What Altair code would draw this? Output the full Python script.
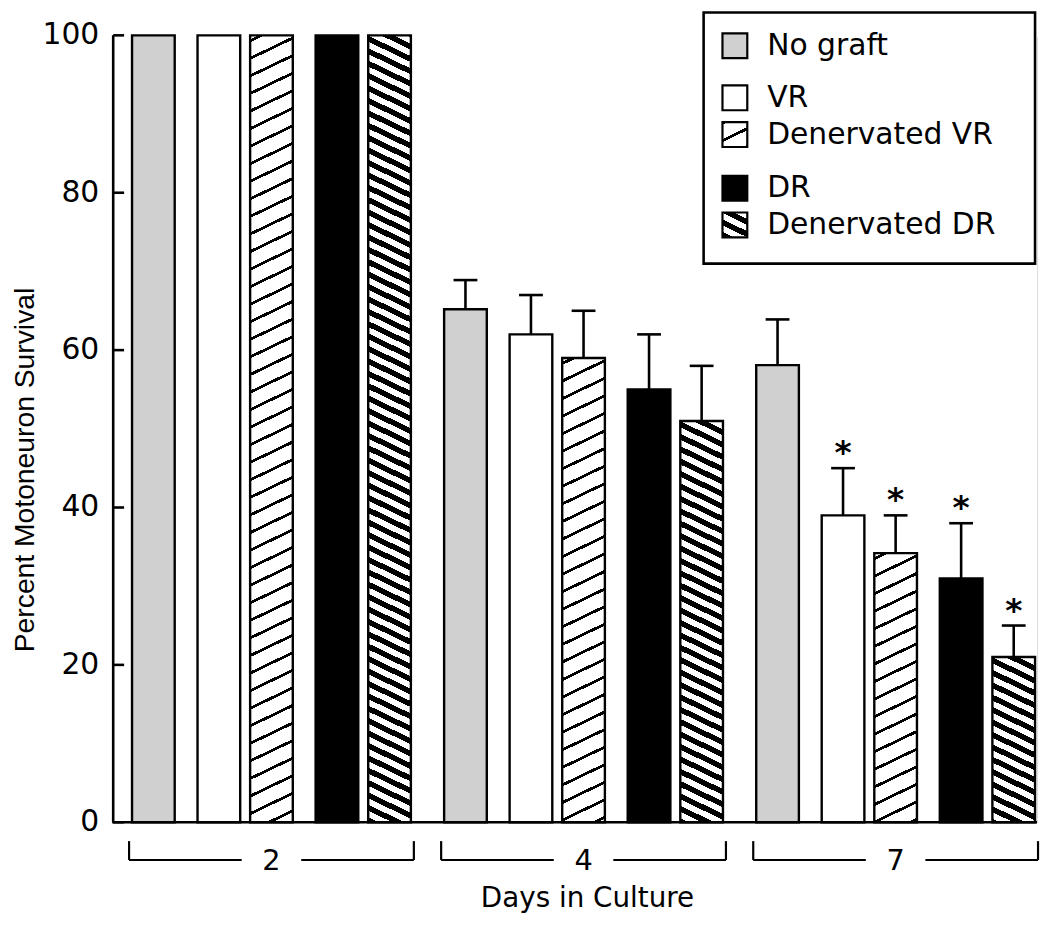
import json
import math
import altair as alt

# ---------------- data ----------------
DAYS = ["2", "4", "7"]
SERIES = ["No graft", "VR", "Denervated VR", "DR", "Denervated DR"]

MEAN_NO_GRAFT = [100, 65.2, 58.1]
MEAN_VR = [100, 62.0, 39.0]
MEAN_DEN_VR = [100, 59.0, 34.2]
MEAN_DR = [100, 55.0, 31.0]
MEAN_DEN_DR = [100, 51.0, 21.0]

ERR_NO_GRAFT = [0, 3.7, 5.8]
ERR_VR = [0, 5.0, 6.0]
ERR_DEN_VR = [0, 6.0, 4.8]
ERR_DR = [0, 7.0, 7.0]
ERR_DEN_DR = [0, 7.0, 4.0]

STAR_NO_GRAFT = ["", "", ""]
STAR_VR = ["", "", "*"]
STAR_DEN_VR = ["", "", "*"]
STAR_DR = ["", "", "*"]
STAR_DEN_DR = ["", "", "*"]

Y_TICKS = [0, 20, 40, 60, 80, 100]
Y_TITLE = "Percent Motoneuron Survival"
X_TITLE = "Days in Culture"

MEANS = [MEAN_NO_GRAFT, MEAN_VR, MEAN_DEN_VR, MEAN_DR, MEAN_DEN_DR]
ERRS = [ERR_NO_GRAFT, ERR_VR, ERR_DEN_VR, ERR_DR, ERR_DEN_DR]
STARS = [STAR_NO_GRAFT, STAR_VR, STAR_DEN_VR, STAR_DR, STAR_DEN_DR]

# ---------------- layout / style ----------------
PLOT_W = 931
PLOT_H = 793
BAR_W = 43          # bar width (stroke centre line)
STROKE = 2.4
GROUP_START = 18
GROUP_STEP = 314.5
SLOT = [0, 66, 119, 185, 238]   # left edge of each series inside a day group
HATCH_SLOPE = 0.48
SANS = "DejaVu Sans"
TITLE_FONT = "Liberation Sans"
AXIS_W = 2.6


def hatch(w, h, rising, period_v, line_w, ink, paper, phase=0.0):
    """Striped linear gradient (objectBoundingBox units) for a w x h box."""
    s = HATCH_SLOPE
    F = s * w + h
    a, b = s * w / F, h / F
    n2 = a * a + b * b
    if rising:
        x1, y1, x2, y2 = 0, 0, a / n2, b / n2
    else:
        x1, y1, x2, y2 = 1, 0, 1 - a / n2, b / n2
    band = line_w * math.sqrt(1 + s * s)
    stops = [{"offset": 0, "color": paper}]
    f = phase
    while f < F:
        s0 = round(max(f, 0) / F, 5)
        s1 = round(min(f + band, F) / F, 5)
        if s1 > s0:
            stops += [
                {"offset": s0, "color": paper},
                {"offset": s0, "color": ink},
                {"offset": s1, "color": ink},
                {"offset": s1, "color": paper},
            ]
        f += period_v
    stops.append({"offset": 1, "color": paper})
    return {"gradient": "linear", "x1": x1, "y1": y1, "x2": x2, "y2": y2, "stops": stops}


def fill_for(series, w, h, vr_phase=4, dr_phase=2):
    if series == "No graft":
        return "#d0d0d0"
    if series == "VR":
        return "#ffffff"
    if series == "DR":
        return "#000000"
    if series == "Denervated VR":
        return hatch(w, h, True, 17.7, 2.8, "#000000", "#ffffff", phase=vr_phase)
    return hatch(w, h, False, 12.5, 5.8, "#ffffff", "#000000", phase=dr_phase)


records = []
for si, name in enumerate(SERIES):
    for di, day in enumerate(DAYS):
        m = MEANS[si][di]
        records.append({
            "day": day,
            "series": name,
            "mean": m,
            "err": ERRS[si][di],
            "star": STARS[si][di],
            "fill": fill_for(name, BAR_W, m * PLOT_H / 100.0),
        })

x0_expr = (
    f"{GROUP_START} + indexof({json.dumps(DAYS)}, datum.day) * {GROUP_STEP}"
    f" + {json.dumps(SLOT)}[indexof({json.dumps(SERIES)}, datum.series)]"
)

base = alt.Chart(alt.Data(values=records)).transform_calculate(
    x0=x0_expr
).transform_calculate(
    xl="datum.x0 + 1",
    xr=f"datum.x0 + 1 + {BAR_W}",
    cx=f"datum.x0 + 1 + {BAR_W} / 2",
    top="datum.mean + datum.err",
    zero="0",
)

xscale = alt.Scale(domain=[0, PLOT_W], nice=False, zero=False)
yscale = alt.Scale(domain=[0, 100], nice=False)

one = alt.Data(values=[{"k": 1}])

# white backing line along the top of the plot (hides a faint frame line)
top_cover = alt.Chart(one).mark_rule(color="white", strokeWidth=4).encode(
    x=alt.value(1.5), x2=alt.value(PLOT_W + 2), y=alt.YDatum(100, axis=None)
)

bars = base.mark_rect(stroke="black", strokeWidth=STROKE).encode(
    x=alt.X("xl:Q", scale=xscale, axis=None),
    x2="xr:Q",
    y=alt.Y("mean:Q", scale=yscale, axis=None),
    y2="zero:Q",
    fill=alt.Fill("fill:N", scale=None),
)

errs = base.transform_filter("datum.err > 0").mark_rule(
    color="black", strokeWidth=2.6
).encode(
    x=alt.X("cx:Q", axis=None), y=alt.Y("mean:Q", axis=None), y2="top:Q"
)

caps = base.transform_filter("datum.err > 0").transform_calculate(
    c1="datum.cx - 12", c2="datum.cx + 12"
).mark_rule(color="black", strokeWidth=2.6).encode(
    x=alt.X("c1:Q", axis=None), x2="c2:Q", y=alt.Y("top:Q", axis=None)
)

stars = base.transform_filter("datum.star != ''").mark_text(
    font=SANS, fontSize=33, fontWeight="bold", color="black",
    baseline="alphabetic", align="center", dy=-5,
).encode(
    x=alt.X("cx:Q", axis=None), y=alt.Y("top:Q", axis=None), text="star:N"
)

# ---------------- axes drawn with the shared scales ----------------
tick_data = alt.Data(values=[{"v": v, "label": str(v)} for v in Y_TICKS])

y_ticks = alt.Chart(tick_data).mark_rule(color="black", strokeWidth=AXIS_W).encode(
    y=alt.Y("v:Q", axis=None), x=alt.value(0), x2=alt.value(11)
)
y_labels = alt.Chart(tick_data).mark_text(
    font=SANS, fontSize=30, color="black", align="right", baseline="middle"
).encode(
    y=alt.Y("v:Q", axis=None), x=alt.value(-14), text="label:N"
)
y_domain = alt.Chart(one).mark_rule(color="black", strokeWidth=AXIS_W).encode(
    x=alt.value(0), y=alt.YDatum(0, axis=None), y2=alt.Y2Datum(100)
)
x_domain = alt.Chart(one).mark_rule(color="black", strokeWidth=AXIS_W).encode(
    x=alt.value(-1), x2=alt.value(PLOT_W), y=alt.YDatum(0, axis=None)
)
y_title = alt.Chart(one).mark_text(
    font=TITLE_FONT, fontSize=28.5, color="black", angle=270,
    align="center", baseline="middle",
).encode(x=alt.value(-89), y=alt.value(438), text=alt.value(Y_TITLE))
x_title = alt.Chart(one).mark_text(
    font=SANS, fontSize=28, color="black", align="center", baseline="middle",
).encode(x=alt.value(478), y=alt.value(870), text=alt.value(X_TITLE))

# ---------------- day brackets ----------------
groups = base.transform_aggregate(
    lo="min(x0)", hi="max(x0)", groupby=["day"]
).transform_calculate(
    l="datum.lo - 2",
    r=f"datum.hi + {BAR_W} + 4",
).transform_calculate(
    c="(datum.l + datum.r) / 2",
).transform_calculate(
    cl="datum.c - 30", cr="datum.c + 30",
)

BR_TOP = 812
BR_Y = 831

br_left = groups.mark_rule(color="black", strokeWidth=2.2).encode(
    x=alt.X("l:Q", axis=None), y=alt.value(BR_TOP), y2=alt.value(BR_Y)
)
br_right = groups.mark_rule(color="black", strokeWidth=2.2).encode(
    x=alt.X("r:Q", axis=None), y=alt.value(BR_TOP), y2=alt.value(BR_Y)
)
br_hl = groups.mark_rule(color="black", strokeWidth=2.2).encode(
    x=alt.X("l:Q", axis=None), x2="cl:Q", y=alt.value(BR_Y)
)
br_hr = groups.mark_rule(color="black", strokeWidth=2.2).encode(
    x=alt.X("cr:Q", axis=None), x2="r:Q", y=alt.value(BR_Y)
)
br_text = groups.mark_text(
    font=SANS, fontSize=29, color="black", baseline="middle", align="center"
).encode(
    x=alt.X("c:Q", axis=None), y=alt.value(BR_Y + 1), text="day:N"
)

# ---------------- legend (drawn by hand) ----------------
LEG_ROWS = [10.5, 63, 100, 154, 191]
SW = 25
legend_records = [
    {"series": name, "row": i, "fill": fill_for(name, SW, SW, vr_phase=-0.7, dr_phase=0)}
    for i, name in enumerate(SERIES)
]
leg_base = alt.Chart(alt.Data(values=legend_records)).transform_calculate(
    ly=f"{json.dumps(LEG_ROWS)}[datum.row]"
).transform_calculate(
    ly0=f"datum.ly - {SW / 2}", ly1=f"datum.ly + {SW / 2}"
)

leg_box = alt.Chart(one).mark_rect(
    fill="white", stroke="black", strokeWidth=2.6
).encode(
    x=alt.value(595), x2=alt.value(929), y=alt.value(-23), y2=alt.value(230)
)
leg_sw = leg_base.mark_rect(stroke="black", strokeWidth=2.2).encode(
    x=alt.value(614), x2=alt.value(614 + SW),
    y=alt.Y("ly0:Q", scale=None, axis=None), y2="ly1:Q",
    fill=alt.Fill("fill:N", scale=None),
)
leg_txt = leg_base.mark_text(
    font=SANS, fontSize=30, color="black", baseline="middle", align="left"
).encode(
    x=alt.value(659), y=alt.Y("ly:Q", scale=None, axis=None), text="series:N"
)

chart = alt.layer(
    top_cover, bars, errs, caps, stars,
    y_ticks, y_labels, y_domain, x_domain, y_title, x_title,
    br_left, br_right, br_hl, br_hr, br_text,
    leg_box, leg_sw, leg_txt,
).properties(
    width=PLOT_W,
    height=PLOT_H,
    autosize=alt.AutoSizeParams(type="none"),
    padding={"left": 106, "top": 24, "right": 5, "bottom": 104},
).configure_view(
    strokeWidth=0, stroke="transparent"
).configure_axis(
    disable=True
).configure(
    background="white",
)

chart.save("out.html", embed_options={"renderer": "svg", "actions": False})
